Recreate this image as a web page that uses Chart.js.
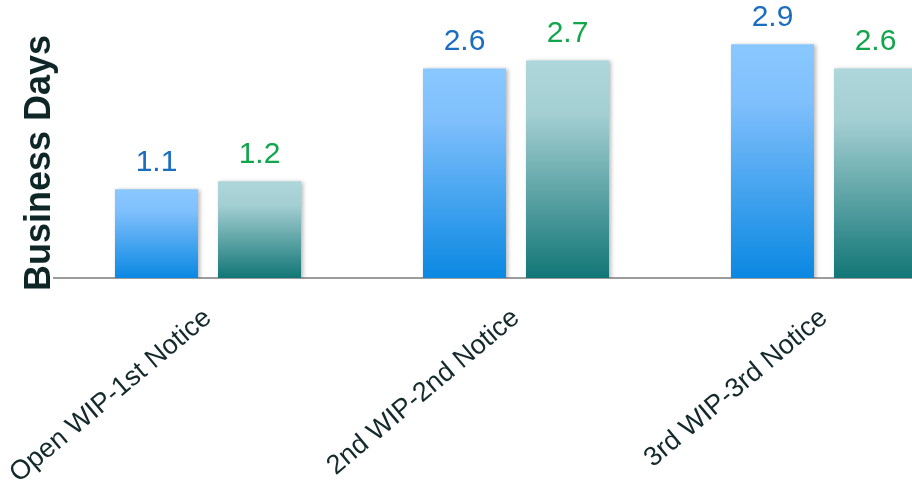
<!DOCTYPE html>
<html>
<head>
<meta charset="utf-8">
<script src="https://cdn.jsdelivr.net/npm/chart.js@4/dist/chart.umd.min.js"></script>
<style>
  html, body { margin: 0; padding: 0; background: #fff; overflow: hidden; }
  #wrap { width: 978px; height: 485px; }
</style>
</head>
<body>
<div id="wrap"><canvas id="chart" width="978" height="485"></canvas></div>
<script>
// Chart data
const categories = ['Open WIP-1st Notice', '2nd WIP-2nd Notice', '3rd WIP-3rd Notice'];
const seriesA = [1.1, 2.6, 2.9];
const seriesB = [1.2, 2.7, 2.6];
const axisTitle = 'Business Days';

const FONT = "'Liberation Sans', Arial, sans-serif";

// Vertical gradient running from the top of each bar down to the baseline
function barGradient(context, stops, fallback) {
  const chart = context.chart;
  if (!chart.chartArea || context.type !== 'data') return fallback;
  const yScale = chart.scales.y;
  const top = yScale.getPixelForValue(context.raw);
  const base = yScale.getPixelForValue(0);
  const g = chart.ctx.createLinearGradient(0, top, 0, base);
  stops.forEach((s) => g.addColorStop(s[0], s[1]));
  return g;
}

const blueStops = [[0, '#89c8ff'], [0.25, '#7fbffc'], [1, '#0a88e2']];
const tealStops = [[0, '#aed7db'], [0.25, '#a3ced2'], [1, '#127676']];
const labelColours = ['#1a6dc0', '#12a64c'];

const barDecor = {
  id: 'barDecor',
  beforeDatasetsDraw(chart) {
    const ctx = chart.ctx;
    ctx.save();
    ctx.shadowColor = 'rgba(0,0,0,0.28)';
    ctx.shadowBlur = 4;
    ctx.shadowOffsetX = 2;
    ctx.shadowOffsetY = 1;
  },
  afterDatasetsDraw(chart) {
    const ctx = chart.ctx;
    ctx.restore();
    ctx.save();
    ctx.font = '30px ' + FONT;
    ctx.textAlign = 'center';
    ctx.textBaseline = 'alphabetic';
    chart.data.datasets.forEach((ds, i) => {
      const meta = chart.getDatasetMeta(i);
      ctx.fillStyle = labelColours[i];
      meta.data.forEach((bar, j) => {
        ctx.fillText(ds.data[j].toFixed(1), bar.x, bar.y - 18);
      });
    });
    ctx.restore();
  },
  afterDraw(chart) {
    const ctx = chart.ctx;
    ctx.save();
    ctx.translate(50, 163);
    ctx.rotate(-Math.PI / 2);
    ctx.font = 'bold 36px ' + FONT;
    ctx.fillStyle = '#0e2626';
    ctx.textAlign = 'center';
    ctx.textBaseline = 'alphabetic';
    ctx.fillText(axisTitle, 0, 0);
    ctx.restore();
  }
};

new Chart(document.getElementById('chart'), {
  type: 'bar',
  data: {
    labels: categories,
    datasets: [
      {
        label: 'A',
        data: seriesA,
        backgroundColor: (c) => barGradient(c, blueStops, '#4aa8f0'),
        categoryPercentage: 0.669,
        barPercentage: 0.806,
        borderWidth: 0
      },
      {
        label: 'B',
        data: seriesB,
        backgroundColor: (c) => barGradient(c, tealStops, '#5fa4a6'),
        categoryPercentage: 0.669,
        barPercentage: 0.806,
        borderWidth: 0
      }
    ]
  },
  options: {
    responsive: false,
    animation: false,
    layout: { padding: { left: 54, right: 0, top: 0, bottom: 0 } },
    plugins: {
      legend: { display: false },
      tooltip: { enabled: false }
    },
    scales: {
      x: {
        grid: { display: false },
        border: { display: true, color: '#9c9c9c', width: 2 },
        ticks: {
          color: '#13292b',
          font: { family: FONT, size: 27 },
          minRotation: 40,
          maxRotation: 40,
          padding: 16
        },
        afterFit(scale) {
          scale.height = 207;
          scale.paddingLeft = 0;
          scale.paddingRight = 0;
        }
      },
      y: {
        display: false,
        min: 0,
        max: 3.45
      }
    }
  },
  plugins: [barDecor]
});
</script>
</body>
</html>
